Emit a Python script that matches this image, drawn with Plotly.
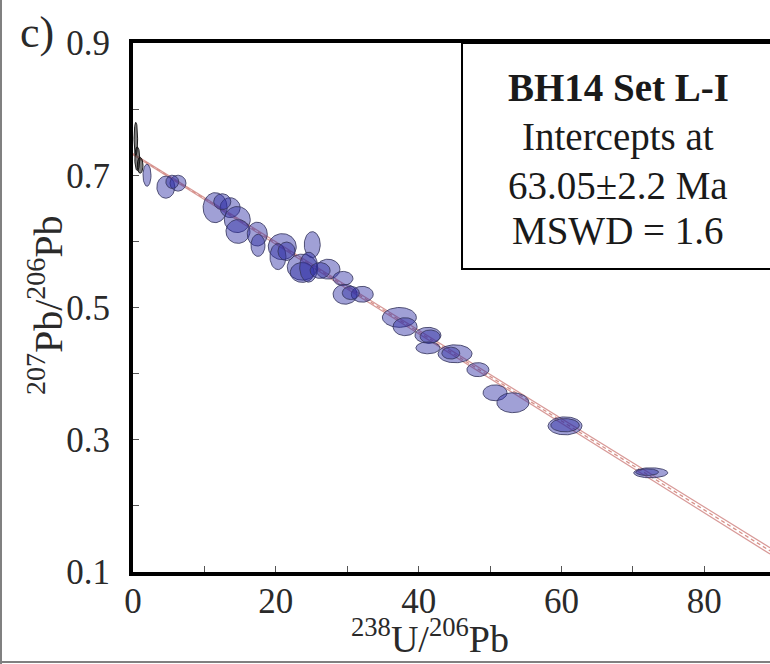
import numpy as np
import plotly.graph_objects as go

# Measured U-Pb ratios: ellipse centres and 2-sigma half-axes
ell_x = [0.4, 0.6, 1.0, 1.96, 4.6, 6.3, 5.5, 11.5, 13.6, 12.5, 14.6, 14.7, 17.4, 17.5,
         20.9, 20.3, 21.5, 25.1, 23.7, 23.7, 24.6, 27.3, 26.2, 29.4, 29.7, 32.1, 30.5,
         37.3, 38.1, 41.3, 41.6, 41.3, 45.1, 44.5, 48.3, 50.7, 53.2, 60.5, 60.5, 72.5, 72.0]
ell_y = [0.755, 0.725, 0.715, 0.700, 0.682, 0.688, 0.690, 0.651, 0.651, 0.660, 0.633, 0.615,
         0.611, 0.594, 0.592, 0.577, 0.585, 0.595, 0.561, 0.553, 0.561, 0.558, 0.556, 0.544,
         0.520, 0.520, 0.522, 0.485, 0.471, 0.458, 0.456, 0.439, 0.430, 0.431, 0.406, 0.371,
         0.356, 0.321, 0.322, 0.250, 0.251]
ell_sx = [0.25, 0.35, 0.4, 0.56, 1.26, 1.12, 0.9, 1.68, 1.4, 1.2, 1.82, 1.68, 1.4, 0.98,
          1.96, 1.12, 1.2, 1.12, 2.1, 1.68, 1.26, 1.68, 1.4, 1.4, 1.68, 1.54, 1.2,
          2.38, 1.68, 1.82, 1.4, 1.68, 2.38, 1.26, 1.54, 1.68, 2.24, 2.38, 2.0, 2.38, 1.6]
ell_sy = [0.025, 0.018, 0.012, 0.0167, 0.0167, 0.012, 0.010, 0.0227, 0.015, 0.012, 0.0197,
          0.018, 0.018, 0.0167, 0.0197, 0.0197, 0.014, 0.0197, 0.0197, 0.015, 0.0227, 0.015,
          0.012, 0.0106, 0.015, 0.012, 0.010, 0.015, 0.0136, 0.012, 0.010, 0.009, 0.0136,
          0.009, 0.0106, 0.012, 0.015, 0.0136, 0.010, 0.0076, 0.005]
# grains with very large errors close to the y axis are drawn dark
ell_dark = [True, True, True] + [False] * 38

# Regression (discordia) line and its error envelope at the ends of the axis
fit_x = [0.0, 89.2]
fit_y = [0.732, 0.132]
fit_halfwidth = [0.0010, 0.0048]

x_ticks = [0, 20, 40, 60, 80]
y_ticks = [0.1, 0.3, 0.5, 0.7, 0.9]

SERIF = "Liberation Serif, Times New Roman, serif"

fig = go.Figure()

# error envelope and central line
upper = [y + h for y, h in zip(fit_y, fit_halfwidth)]
lower = [y - h for y, h in zip(fit_y, fit_halfwidth)]
for yy in (upper, lower):
    fig.add_trace(go.Scatter(x=fit_x, y=yy, mode="lines",
                             line=dict(color="#d89a98", width=1.2),
                             hoverinfo="skip", showlegend=False))
fig.add_trace(go.Scatter(x=fit_x, y=fit_y, mode="lines",
                         line=dict(color="#d8928a", width=1.3, dash="4px,3px"),
                         hoverinfo="skip", showlegend=False))

# error ellipses
t = np.linspace(0, 2 * np.pi, 72)
for cx, cy, sx, sy, dark in zip(ell_x, ell_y, ell_sx, ell_sy, ell_dark):
    if dark:
        fill, edge = "rgba(20,20,20,0.55)", "rgba(10,10,10,0.9)"
    else:
        fill, edge = "rgba(45,45,165,0.45)", "rgba(55,55,95,0.85)"
    fig.add_trace(go.Scatter(x=cx + sx * np.cos(t), y=cy + sy * np.sin(t),
                             mode="lines", fill="toself", fillcolor=fill,
                             line=dict(color=edge, width=1),
                             hoverinfo="skip", showlegend=False))

axis_font = dict(family=SERIF, size=35, color="#2a2a2a")

fig.update_layout(
    width=770, height=664,
    margin=dict(l=133, r=0, t=43, b=92),
    paper_bgcolor="white", plot_bgcolor="white",
    showlegend=False,
    xaxis=dict(range=[0, 89.2], tickvals=x_ticks, ticks="inside", ticklen=6,
               tickwidth=1, tickcolor="#555", showline=True, linewidth=4,
               linecolor="black", mirror=True, showgrid=False, zeroline=False,
               tickfont=axis_font, ticklabelstandoff=-5,
               minor=dict(dtick=10, tick0=0, ticks="inside", ticklen=6,
                          tickwidth=1, tickcolor="#555", showgrid=False)),
    yaxis=dict(range=[0.1, 0.9], tickvals=y_ticks, ticks="inside", ticklen=6,
               tickwidth=1, tickcolor="#555", showline=True, linewidth=4,
               linecolor="black", showgrid=False, zeroline=False,
               tickfont=axis_font, ticklabelstandoff=12,
               minor=dict(dtick=0.1, tick0=0.1, ticks="inside", ticklen=6,
                          tickwidth=1, tickcolor="#555", showgrid=False)),
)

# result box
fig.add_shape(type="rect", xref="paper", yref="paper",
              x0=0.5165, x1=1.1, y0=0.5728, y1=1.0,
              fillcolor="white", line=dict(color="black", width=2), layer="above")

box_lines = [("<b>BH14 Set L-I</b>", 0.915), ("Intercepts at", 0.822),
             ("63.05±2.2 Ma", 0.730), ("MSWD = 1.6", 0.645)]
for txt, yp in box_lines:
    fig.add_annotation(text=txt, xref="paper", yref="paper", x=0.762, y=yp,
                       xanchor="center", yanchor="middle", showarrow=False,
                       font=dict(family=SERIF, size=39, color="#1a1a1a"))

# axis titles and panel label
fig.add_annotation(text="<sup>238</sup>U/<sup>206</sup>Pb", xref="paper", yref="paper",
                   x=(430 - 133) / 637, y=(572 - 636) / 529, xanchor="center",
                   yanchor="middle", showarrow=False,
                   font=dict(family=SERIF, size=38, color="#2a2a2a"))
fig.add_annotation(text="<sup>207</sup>Pb/<sup>206</sup>Pb", xref="paper", yref="paper",
                   x=(45 - 133) / 637, y=(572 - 305) / 529, xanchor="center",
                   yanchor="middle", textangle=-90, showarrow=False,
                   font=dict(family=SERIF, size=40, color="#2a2a2a"))
fig.add_annotation(text="c)", xref="paper", yref="paper",
                   x=(37 - 133) / 637, y=(572 - 32) / 529, xanchor="center",
                   yanchor="middle", showarrow=False,
                   font=dict(family=SERIF, size=44, color="#2a2a2a"))

# thin grey frame at the left and bottom edges of the figure
fig.add_shape(type="line", xref="paper", yref="paper",
              x0=(1 - 133) / 637, x1=(1 - 133) / 637, y0=(572 - 664) / 529, y1=572 / 529,
              line=dict(color="#808080", width=2))
fig.add_shape(type="line", xref="paper", yref="paper",
              x0=(0 - 133) / 637, x1=1.1, y0=(572 - 662) / 529, y1=(572 - 662) / 529,
              line=dict(color="#808080", width=2))

fig.write_html("out.html")
